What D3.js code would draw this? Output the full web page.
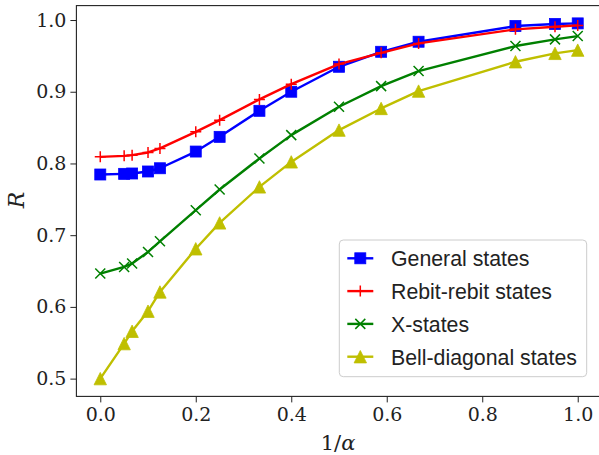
<!DOCTYPE html>
<html><head><meta charset="utf-8">
<script src="https://cdn.jsdelivr.net/npm/d3@7"></script>
<style>html,body{margin:0;padding:0;background:#fff;}svg{display:block;}</style>
</head><body>
<svg id="chart" width="599" height="455"></svg>
<script>
const xValues = [0, 0.05, 1/15, 0.1, 0.125, 0.2, 0.25, 1/3, 0.4, 0.5, 1/1.7, 2/3, 1/1.15, 1/1.05, 1];
const generalStates = [0.7846, 0.7855, 0.786, 0.7888, 0.7933, 0.8166, 0.8371, 0.8734, 0.9, 0.9348, 0.9557, 0.9697, 0.9916, 0.9944, 0.9953];
const rebitStates   = [0.8092, 0.8106, 0.8116, 0.8153, 0.821, 0.8441, 0.8604, 0.8893, 0.9106, 0.9385, 0.9543, 0.9674, 0.987, 0.9906, 0.9925];
const xStates       = [0.6465, 0.6557, 0.6604, 0.6766, 0.6915, 0.7348, 0.7637, 0.807, 0.8395, 0.879, 0.9078, 0.9288, 0.9637, 0.973, 0.9776];
const bellStates    = [0.5, 0.5488, 0.566, 0.594, 0.6208, 0.681, 0.7171, 0.7673, 0.8022, 0.8465, 0.8767, 0.9009, 0.9418, 0.9535, 0.958];
const seriesNames = ["General states", "Rebit-rebit states", "X-states", "Bell-diagonal states"];
const seriesColors = ["#0000ff", "#ff0000", "#008000", "#bfbf00"];
const seriesMarkers = ["square", "plus", "cross", "triangle"];
const xTicks = [0.0, 0.2, 0.4, 0.6, 0.8, 1.0];
const yTicks = [0.5, 0.6, 0.7, 0.8, 0.9, 1.0];

const allSeries = [generalStates, rebitStates, xStates, bellStates];
const svg = d3.select("#chart");
const x = d3.scaleLinear().domain([-0.05, 1.05]).range([76.4, 601.6]);
const y = d3.scaleLinear().domain([0.4752, 1.0201]).range([396.4, 5.6]);

const tickFont = "'DejaVu Serif', serif";
const xAxis = d3.axisBottom(x).tickValues(xTicks).tickFormat(d3.format(".1f")).tickSize(6).tickPadding(5);
const yAxis = d3.axisLeft(y).tickValues(yTicks).tickFormat(d3.format(".1f")).tickSize(6).tickPadding(4);
const gx = svg.append("g").attr("transform", `translate(0,${y.range()[0]})`).call(xAxis);
const gy = svg.append("g").attr("transform", `translate(${x.range()[0]},0)`).call(yAxis);
[gx, gy].forEach(g => {
  g.select(".domain").remove();
  g.selectAll(".tick line").attr("stroke", "#222").attr("stroke-width", 1);
  g.selectAll(".tick text").attr("font-family", tickFont).attr("font-size", 19).attr("fill", "#222");
});
svg.append("rect").attr("x", x.range()[0]).attr("y", y.range()[1])
  .attr("width", x.range()[1] - x.range()[0]).attr("height", y.range()[0] - y.range()[1])
  .attr("fill", "none").attr("stroke", "#222").attr("stroke-width", 1.1);

svg.append("text").attr("x", 338).attr("y", 450).attr("text-anchor", "middle")
  .attr("font-family", tickFont).attr("font-size", 21).attr("fill", "#222")
  .html("1/<tspan font-style='italic'>α</tspan>");
svg.append("text").attr("transform", "translate(24,200) rotate(-90)").attr("text-anchor", "middle")
  .attr("font-family", tickFont).attr("font-size", 22).attr("font-style", "italic").attr("fill", "#222")
  .text("R");

function drawMarker(g, type, color, cx, cy) {
  if (type === "square") {
    g.append("rect").attr("x", cx - 5.5).attr("y", cy - 5.5).attr("width", 11).attr("height", 11)
      .attr("fill", color).attr("stroke", color).attr("stroke-width", 0.8);
  } else if (type === "plus") {
    g.append("path").attr("d", `M${cx-5.5},${cy}H${cx+5.5}M${cx},${cy-5.5}V${cy+5.5}`)
      .attr("stroke", color).attr("stroke-width", 1.5).attr("fill", "none");
  } else if (type === "cross") {
    g.append("path").attr("d", `M${cx-5},${cy-5}L${cx+5},${cy+5}M${cx-5},${cy+5}L${cx+5},${cy-5}`)
      .attr("stroke", color).attr("stroke-width", 1.5).attr("fill", "none");
  } else {
    g.append("path").attr("d", `M${cx},${cy-6.2}L${cx-6.2},${cy+6.2}L${cx+6.2},${cy+6.2}Z`)
      .attr("fill", color).attr("stroke", color).attr("stroke-width", 0.8);
  }
}

const line = d3.line().x(d => x(d[0])).y(d => y(d[1]));
allSeries.forEach((vals, i) => {
  const pts = xValues.map((xv, j) => [xv, vals[j]]);
  const g = svg.append("g");
  g.append("path").attr("d", line(pts)).attr("fill", "none")
    .attr("stroke", seriesColors[i]).attr("stroke-width", 2.4).attr("stroke-linejoin", "round");
  pts.forEach(p => drawMarker(g, seriesMarkers[i], seriesColors[i], x(p[0]), y(p[1])));
});

const lg = svg.append("g");
lg.append("rect").attr("x", 339.3).attr("y", 240).attr("width", 247.4).attr("height", 136.7)
  .attr("rx", 4).attr("fill", "#fff").attr("fill-opacity", 0.8).attr("stroke", "#cccccc").attr("stroke-width", 1);
seriesNames.forEach((name, i) => {
  const cy = 258.3 + i * 32.8;
  lg.append("line").attr("x1", 347.3).attr("x2", 373.3).attr("y1", cy).attr("y2", cy)
    .attr("stroke", seriesColors[i]).attr("stroke-width", 2.4);
  drawMarker(lg, seriesMarkers[i], seriesColors[i], 360.3, cy);
  lg.append("text").attr("x", 391).attr("y", cy + 7.8).attr("font-family", "'Liberation Sans', sans-serif")
    .attr("font-size", 21.3).attr("fill", "#222").text(name);
});
</script>
</body></html>
